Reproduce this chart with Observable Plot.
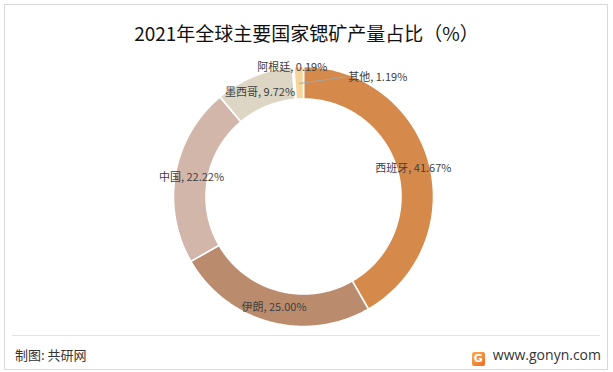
<!DOCTYPE html>
<html><head><meta charset="utf-8">
<script src="https://cdn.jsdelivr.net/npm/d3@7"></script>
<script src="https://cdn.jsdelivr.net/npm/@observablehq/plot@0.6"></script>
<style>
body{margin:0;background:#fff;font-family:"Noto Sans CJK SC","Noto Sans",sans-serif;}
#wrap{position:relative;width:613px;height:372px;overflow:hidden;background:#fff;}
#chart{position:absolute;left:0;top:0;}
#frame{position:absolute;left:4px;top:4px;width:602px;height:364px;border:1px solid #d9d9d9;}
#title{position:absolute;left:0;width:613px;top:20px;text-align:center;font-size:19px;line-height:26px;color:#111;}
#rule{position:absolute;left:12px;width:588px;top:335px;height:1px;background:#e3e3e3;}
#src{position:absolute;left:15px;top:345px;font-size:13px;line-height:20px;color:#333;}
#site{position:absolute;right:12px;top:344px;font-size:14px;line-height:22px;color:#333;font-family:"Open Sans","Noto Sans",sans-serif;}
.logo{display:inline-block;width:13px;height:14px;margin-right:8px;vertical-align:-2px;border-radius:2px;background:linear-gradient(135deg,#f7b04a,#ee6a2a);color:#fff;font-size:11px;font-weight:bold;line-height:14px;text-align:center;font-family:"DejaVu Sans",sans-serif;}
</style></head><body>
<div id="wrap">
 <div id="frame"></div>
 <div id="chart"></div>
 <div id="title">2021年全球主要国家锶矿产量占比（%）</div>
 <div id="rule"></div>
 <div id="src">制图: 共研网</div>
 <div id="site"><span class="logo">G</span>www.gonyn.com</div>
</div>
<script>
// data
const countries = ["西班牙", "伊朗", "中国", "墨西哥", "阿根廷", "其他"];
const shares = [41.67, 25.00, 22.22, 9.72, 0.19, 1.19];
const sliceColors = ["#D58A4B", "#BA8C6D", "#D2B6AA", "#DDD6C5", "#C9A77C", "#F5D59C"];

// geometry settings
const R_OUT = 1, R_IN = 0.75, R_LAB = 0.875;
const PX = 130; // pixels per unit radius
const total = d3.sum(shares);

const slices = [];
let acc = 0;
countries.forEach((name, i) => {
  const a0 = acc / total * 2 * Math.PI;
  acc += shares[i];
  const a1 = acc / total * 2 * Math.PI;
  slices.push({name, value: shares[i], a0, a1, mid: (a0 + a1) / 2});
});

const poly = [];
for (const s of slices) {
  const n = Math.max(2, Math.ceil((s.a1 - s.a0) / (Math.PI / 360)));
  const pts = [];
  for (let k = 0; k <= n; k++) {
    const a = s.a0 + (s.a1 - s.a0) * k / n;
    pts.push({name: s.name, x: R_OUT * Math.sin(a), y: R_OUT * Math.cos(a)});
  }
  for (let k = n; k >= 0; k--) {
    const a = s.a0 + (s.a1 - s.a0) * k / n;
    pts.push({name: s.name, x: R_IN * Math.sin(a), y: R_IN * Math.cos(a)});
  }
  poly.push(...pts);
}

const labels = slices.map(s => ({
  name: s.name,
  text: `${s.name}, ${s.value.toFixed(2)}%`,
  x: R_LAB * Math.sin(s.mid),
  y: R_LAB * Math.cos(s.mid)
}));
const inside = labels.filter(d => d.name !== "阿根廷" && d.name !== "其他");
const arg = labels.filter(d => d.name === "阿根廷");
const oth = labels.filter(d => d.name === "其他");
const leader = oth.map(d => ({x1: d.x, y1: d.y - 0.005, x2: d.x + 47 / PX, y2: d.y + 6 / PX}));

const chart = Plot.plot({
  width: 613, height: 372,
  marginLeft: 173, marginRight: 180, marginTop: 66, marginBottom: 46,
  x: {domain: [-1, 1], axis: null},
  y: {domain: [-1, 1], axis: null},
  color: {domain: countries, range: sliceColors},
  style: {background: "transparent", fontFamily: "'Noto Sans CJK SC', sans-serif"},
  marks: [
    Plot.line(poly, {x: "x", y: "y", z: "name", fill: "name", stroke: "white", strokeWidth: 1.6, curve: "linear-closed"}),
    Plot.link(leader, {x1: "x1", y1: "y1", x2: "x2", y2: "y2", stroke: "#a6a6a6", strokeWidth: 1}),
    Plot.text(inside, {x: "x", y: "y", text: "text", fontSize: 11, fill: "#404040", dy: 1}),
    Plot.text(arg, {x: "x", y: "y", text: "text", fontSize: 11, fill: "#404040", dx: -2, dy: -16}),
    Plot.text(oth, {x: "x", y: "y", text: "text", fontSize: 11, fill: "#404040", textAnchor: "start", dx: 49, dy: -5})
  ]
});
document.getElementById("chart").appendChild(chart);
</script>
</body></html>
